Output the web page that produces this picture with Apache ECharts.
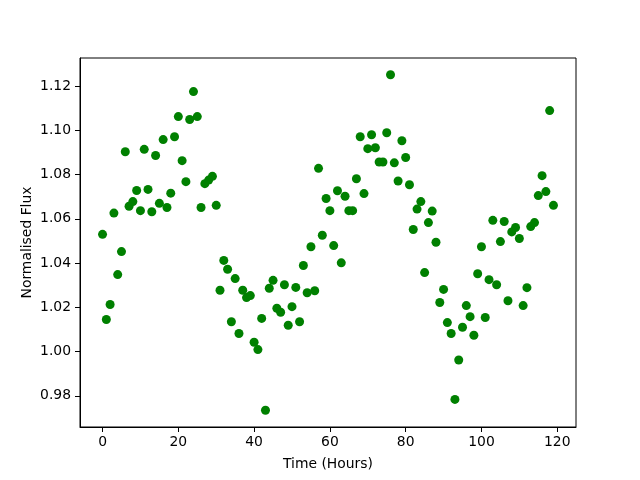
<!DOCTYPE html>
<html>
<head>
<meta charset="utf-8">
<script src="https://cdn.jsdelivr.net/npm/echarts@6/dist/echarts.min.js"></script>
<style>
html,body{margin:0;padding:0;background:#fff;}
#chart{width:640px;height:480px;}
</style>
</head>
<body>
<div id="chart"></div>
<script>
var hours = [0,1,2,3,4,5,6,7,8,9,10,11,12,13,14,15,16,17,18,19,20,21,22,23,24,25,26,27,28,29,
30,31,32,33,34,35,36,37,38,39,40,41,42,43,44,45,46,47,48,49,50,51,52,53,54,55,56,57,58,59,
60,61,62,63,64,65,66,67,68,69,70,71,72,73,74,75,76,77,78,79,80,81,82,83,84,85,86,87,88,89,
90,91,92,93,94,95,96,97,98,99,100,101,102,103,104,105,106,107,108,109,110,111,112,113,114,115,116,117,118,119];
var flux = [
1.0530,1.0145,1.0213,1.0626,1.0348,1.0452,1.0903,1.0657,1.0678,1.0728,
1.0637,1.0914,1.0733,1.0632,1.0886,1.0670,1.0958,1.0651,1.0716,1.0971,
1.1062,1.0863,1.0768,1.1049,1.1175,1.1062,1.0651,1.0759,1.0775,1.0792,
1.0661,1.0277,1.0412,1.0372,1.0135,1.0330,1.0082,1.0277,1.0244,1.0253,
1.0042,1.0009,1.0150,0.9735,1.0286,1.0322,1.0196,1.0178,1.0302,1.0119,
1.0203,1.0290,1.0135,1.0389,1.0266,1.0474,1.0275,1.0828,1.0526,1.0692,
1.0637,1.0479,1.0727,1.0401,1.0702,1.0637,1.0637,1.0781,1.0971,1.0714,
1.0917,1.0980,1.0921,1.0857,1.0857,1.0989,1.1251,1.0853,1.0771,1.0953,
1.0877,1.0754,1.0552,1.0644,1.0678,1.0357,1.0583,1.0635,1.0494,1.0222,
1.0281,1.0131,1.0082,0.9784,0.9962,1.0110,1.0208,1.0158,1.0074,1.0352,
1.0474,1.0154,1.0325,1.0593,1.0302,1.0497,1.0588,1.0230,1.0541,1.0561,
1.0511,1.0208,1.0289,1.0565,1.0583,1.0705,1.0795,1.0723,1.1089,1.0661];
var xTicks = [0,20,40,60,80,100,120];
var yTicks = [0.98,1.00,1.02,1.04,1.06,1.08,1.10,1.12];
var xTitle = 'Time (Hours)';
var yTitle = 'Normalised Flux';

var pts = hours.map(function(h,i){ return [h, flux[i]]; });
var font = 'DejaVu Sans';
var chart = echarts.init(document.getElementById('chart'), null, {renderer:'canvas'});
chart.setOption({
  animation: false,
  backgroundColor: '#fff',
  grid: {left:80, right:64, top:58, bottom:53, show:true, borderColor:'#000', borderWidth:1, backgroundColor:'transparent'},
  xAxis: {
    type:'value', min:-5.95, max:124.95,
    name: xTitle, nameLocation:'middle', nameGap:30, nameMoveOverlap:false,
    nameTextStyle:{fontFamily:font, fontSize:13.9, color:'#000'},
    axisLine:{show:true, onZero:false, lineStyle:{color:'#000', width:1}},
    axisTick:{show:true, length:5, inside:false, customValues:xTicks, lineStyle:{color:'#000', width:1}},
    axisLabel:{show:true, customValues:xTicks, margin:8, fontFamily:font, fontSize:13.9, color:'#000',
      formatter:function(v){return String(v);}},
    splitLine:{show:false}
  },
  yAxis: {
    type:'value', min:0.96592, max:1.13268,
    name: yTitle, nameLocation:'middle', nameGap:46, nameMoveOverlap:false,
    nameTextStyle:{fontFamily:font, fontSize:13.9, color:'#000'},
    axisLine:{show:true, onZero:false, lineStyle:{color:'#000', width:1}},
    axisTick:{show:true, length:5, inside:false, customValues:yTicks, lineStyle:{color:'#000', width:1}},
    axisLabel:{show:true, customValues:yTicks, margin:9, fontFamily:font, fontSize:13.9, color:'#000',
      formatter:function(v){return v.toFixed(2);}},
    splitLine:{show:false}
  },
  series: [{
    type:'scatter',
    data: pts,
    symbol:'circle',
    symbolSize:9,
    itemStyle:{color:'#008000', opacity:1},
    emphasis:{disabled:true}
  }]
});
</script>
</body>
</html>
